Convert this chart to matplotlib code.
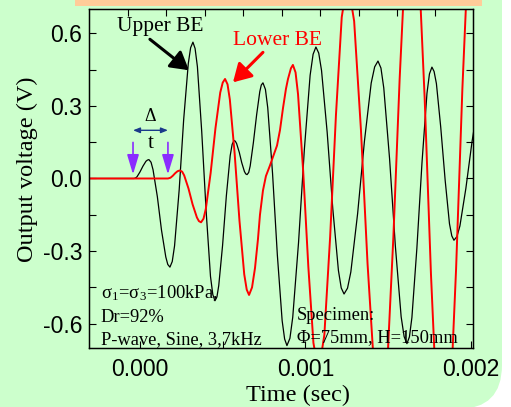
import matplotlib
matplotlib.use('Agg')
import numpy as np
import matplotlib.pyplot as plt
from matplotlib.patches import FancyBboxPatch, Rectangle
from matplotlib.transforms import IdentityTransform
from matplotlib.ticker import MultipleLocator

# signals (time in ms, voltage in V)
upper_t_ms = [-0.32, -0.036, -0.027, -0.018, 0.000, 0.018, 0.036, 0.045,
              0.054, 0.067, 0.079, 0.105, 0.130, 0.156, 0.168, 0.181,
              0.195, 0.209, 0.237, 0.264, 0.292, 0.306, 0.320, 0.333,
              0.347, 0.373, 0.400, 0.426, 0.440, 0.453, 0.465, 0.476,
              0.499, 0.522, 0.545, 0.557, 0.568, 0.576, 0.584, 0.600,
              0.615, 0.631, 0.639, 0.647, 0.657, 0.666, 0.685, 0.705,
              0.724, 0.733, 0.743, 0.758, 0.772, 0.801, 0.830, 0.859,
              0.874, 0.888, 0.906, 0.923, 0.958, 0.993, 1.028, 1.046,
              1.063, 1.080, 1.097, 1.131, 1.165, 1.199, 1.216, 1.233,
              1.254, 1.274, 1.315, 1.356, 1.397, 1.418, 1.438, 1.456,
              1.473, 1.508, 1.543, 1.578, 1.596, 1.613, 1.628, 1.643,
              1.673, 1.704, 1.734, 1.749, 1.764, 1.777, 1.791, 1.817,
              1.844, 1.870, 1.884, 1.897, 1.915, 1.933, 1.969, 2.006,
              2.042]
upper_v = [0, 0, 0.002, 0.007, 0.027, 0.051, 0.071, 0.076,
           0.078, 0.067, 0.036, -0.075, -0.213, -0.324, -0.355, -0.366,
           -0.343, -0.278, -0.046, 0.243, 0.475, 0.540, 0.563, 0.537,
           0.462, 0.195, -0.137, -0.404, -0.479, -0.505, -0.489, -0.442,
           -0.277, -0.071, 0.094, 0.141, 0.157, 0.154, 0.144, 0.108,
           0.065, 0.029, 0.019, 0.016, 0.025, 0.052, 0.147, 0.264,
           0.359, 0.386, 0.395, 0.368, 0.292, 0.021, -0.316, -0.587,
           -0.663, -0.690, -0.660, -0.573, -0.265, 0.118, 0.426, 0.513,
           0.543, 0.518, 0.446, 0.191, -0.125, -0.380, -0.452, -0.477,
           -0.453, -0.386, -0.145, 0.153, 0.394, 0.461, 0.485, 0.456,
           0.374, 0.082, -0.279, -0.571, -0.653, -0.682, -0.654, -0.574,
           -0.288, 0.066, 0.352, 0.432, 0.460, 0.442, 0.392, 0.213,
           -0.008, -0.187, -0.237, -0.255, -0.240, -0.196, -0.041, 0.151,
           0.306]

lower_t_ms = [-0.32, 0.169, 0.184, 0.198, 0.213, 0.227, 0.235, 0.242,
              0.255, 0.267, 0.293, 0.318, 0.344, 0.356, 0.369, 0.384,
              0.398, 0.427, 0.456, 0.485, 0.500, 0.514, 0.529, 0.543,
              0.572, 0.601, 0.630, 0.645, 0.659, 0.677, 0.695, 0.713,
              0.725, 0.743, 0.761, 0.785, 0.804, 0.828, 0.846, 0.864,
              0.882, 0.894, 0.912, 0.924, 0.940, 0.955, 0.986, 1.017,
              1.048, 1.079, 1.114, 1.149, 1.184, 1.219, 1.254, 1.294,
              1.335, 1.375, 1.416, 1.456, 1.494, 1.531, 1.569, 1.606,
              1.644, 1.682, 1.720, 1.758, 1.796, 1.834, 1.872, 1.910,
              1.948, 1.986, 2.024]
lower_v = [0, 0, 0.003, 0.011, 0.022, 0.030, 0.032, 0.033,
           0.028, 0.013, -0.041, -0.107, -0.161, -0.176, -0.181, -0.166,
           -0.125, 0.023, 0.207, 0.355, 0.396, 0.411, 0.389, 0.326,
           0.103, -0.173, -0.396, -0.459, -0.481, -0.45, -0.37, -0.25,
           -0.15, -0.05, 0.01, 0.053, 0.09, 0.136, 0.20, 0.29,
           0.37, 0.41, 0.455, 0.469, 0.438, 0.348, 0.031, -0.362,
           -0.679, -0.80, -0.646, -0.241, 0.261, 0.666, 0.82, 0.650,
           0.202, -0.352, -0.800, -0.97, -0.770, -0.242, 0.412, 0.940,
           1.14, 0.918, 0.333, -0.393, -0.978, -1.2, -0.972, -0.372,
           0.372, 0.972, 1.2]

# arrival picks (ms)
pick_upper_ms = -0.042
pick_lower_ms = 0.169

green = '#ccffcc'
plt.rcParams['font.family'] = 'Liberation Serif'
plt.rcParams['mathtext.fontset'] = 'stix'

fig = plt.figure(figsize=(5.11, 4.07), dpi=100, facecolor='white')
# slide background with rounded corner bottom-right
bg = FancyBboxPatch((-100, -2), 602, 520, boxstyle='round,pad=0,rounding_size=44',
                    transform=IdentityTransform(), facecolor=green, edgecolor='none', zorder=-10)
fig.patches.append(bg)
fig.patches.append(Rectangle((75 / 511, 401 / 407), 407 / 511, 0.03, transform=fig.transFigure,
                             facecolor='#ffcc99', edgecolor='none', zorder=-5))

ax = fig.add_axes([0.1748, 0.145, 0.7508, 0.8329])
ax.set_facecolor(green)

ms = 1e-3
ax.plot(np.array(upper_t_ms) * ms, upper_v, color='black', lw=0.9)
ax.plot(np.array(lower_t_ms) * ms, lower_v, color='red', lw=1.4)

ax.set_xlim(-0.306 * ms, 2.012 * ms)
ax.set_ylim(-0.7, 0.7)
ax.set_xticks([0, 0.001, 0.002])
ax.set_xticklabels(['0.000', '0.001', '0.002'])
ax.xaxis.set_minor_locator(MultipleLocator(0.0005))
ax.yaxis.set_minor_locator(MultipleLocator(0.15))
ax.set_yticks([-0.6, -0.3, 0.0, 0.3, 0.6])
ax.set_yticklabels(['-0.6', '-0.3', '0.0', '0.3', '0.6'])
ax.tick_params(which='both', direction='in', length=5, width=0.8, right=True, top=False)
ax.tick_params(axis='y', pad=5, labelsize=16.5, labelfontfamily='Liberation Sans')
ax.tick_params(axis='x', pad=7, labelsize=16.5, labelfontfamily='Liberation Sans')
for s in ax.spines.values():
    s.set_linewidth(1.0)

# top axis ticks (unlabelled, own spacing)
axt = ax.twiny()
axt.set_xlim(-1.008, 8.98)
axt.set_xticks(range(9))
axt.set_xticklabels([])
axt.tick_params(direction='in', length=5, width=0.8, top=True, bottom=False)

ax.set_xlabel('Time (sec)', fontsize=17.5)
ax.xaxis.set_label_coords(0.544, -0.108)
ax.set_ylabel('Output voltage (V)', fontsize=17.5)
ax.yaxis.set_label_coords(-0.134, 0.528)

# labels and arrows
ax.text(-0.139 * ms, 0.608, 'Upper BE', fontsize=15.5, color='black', ha='left', va='baseline')
ax.text(0.562 * ms, 0.550, 'Lower BE', fontsize=15.5, color='red', ha='left', va='baseline')
ax.annotate('', xy=(0.296 * ms, 0.447), xytext=(0.060 * ms, 0.575),
            arrowprops=dict(arrowstyle='-|>,head_length=0.6,head_width=0.35', color='black',
                            lw=2.2, mutation_scale=18, shrinkA=0, shrinkB=0))
ax.annotate('', xy=(0.562 * ms, 0.397), xytext=(0.743 * ms, 0.521),
            arrowprops=dict(arrowstyle='-|>,head_length=0.6,head_width=0.35', color='red',
                            lw=2.2, mutation_scale=18, shrinkA=0, shrinkB=0))

for p in [pick_upper_ms, pick_lower_ms]:
    ax.annotate('', xy=(p * ms, 0.017), xytext=(p * ms, 0.149),
                arrowprops=dict(arrowstyle='-|>,head_length=0.6,head_width=0.18', color='#8a2cff',
                                lw=1.2, mutation_scale=20, shrinkA=0, shrinkB=0))
ax.annotate('', xy=(pick_upper_ms * ms, 0.199), xytext=(pick_lower_ms * ms, 0.199),
            arrowprops=dict(arrowstyle='<|-|>,head_length=0.5,head_width=0.2', color='#1a3a8a',
                            lw=1.0, mutation_scale=8, shrinkA=0, shrinkB=0))
mid = (pick_upper_ms + pick_lower_ms) / 2 * ms
ax.text(mid, 0.257, 'Δ', fontsize=13, ha='center', va='center')
ax.text(mid, 0.145, 't', fontsize=15, ha='center', va='center')

ax.text(-0.236 * ms, -0.492, r'σ$_\mathregular{1}$=σ$_\mathregular{3}$=100kPa,', fontsize=13.3, va='baseline')
ax.text(-0.236 * ms, -0.592, 'Dr=92%', fontsize=13.3, va='baseline')
ax.text(-0.236 * ms, -0.683, 'P-wave, Sine, 3,7kHz', fontsize=13.3, va='baseline')
ax.text(0.949 * ms, -0.583, 'Specimen:', fontsize=13.3, va='baseline')
ax.text(0.949 * ms, -0.674, 'Φ=75mm, H=150mm', fontsize=13.3, va='baseline')

fig.savefig('out.png', dpi=100, facecolor=fig.get_facecolor())
